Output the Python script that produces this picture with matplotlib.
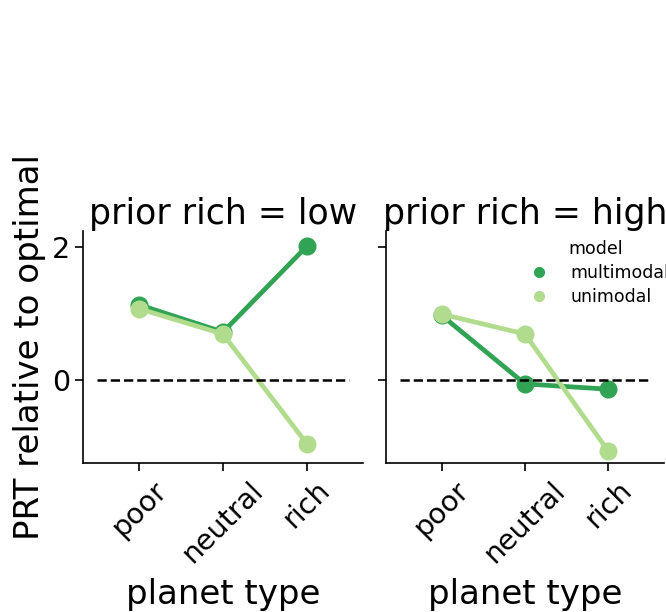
import numpy as np
import matplotlib.pyplot as plt
from matplotlib.lines import Line2D

planet_types = ["poor", "neutral", "rich"]
priors = ["low", "high"]
models = ["multimodal", "unimodal"]

# PRT relative to optimal, per prior -> model
prt_low_multimodal = [1.13, 0.72, 2.01]
prt_low_unimodal = [1.07, 0.69, -0.96]
prt_high_multimodal = [0.97, -0.06, -0.14]
prt_high_unimodal = [0.99, 0.69, -1.07]

values = {
    "low": {"multimodal": prt_low_multimodal, "unimodal": prt_low_unimodal},
    "high": {"multimodal": prt_high_multimodal, "unimodal": prt_high_unimodal},
}
colors = {"multimodal": "#31a354", "unimodal": "#b1dc8e"}

fig = plt.figure(figsize=(6.66, 6.12), dpi=100)
ax1 = fig.add_axes([83/666, 1 - 463/612, 280/666, 232/612])
ax2 = fig.add_axes([386/666, 1 - 463/612, 278/666, 232/612], sharey=ax1)

x = np.arange(len(planet_types))
for ax, prior in zip([ax1, ax2], priors):
    for m in models:
        ax.plot(x, values[prior][m], color=colors[m], lw=3.4, marker="o",
                markersize=13, markeredgewidth=0, solid_capstyle="round")
    ax.hlines(0, -0.5, 2.5, colors="k", linestyles="--", lw=1.8)
    ax.set_xlim(-0.67, 2.67)
    ax.set_xticks(x)
    ax.set_xticklabels(planet_types, rotation=45)
    ax.set_xlabel("planet type", fontsize=24.5, labelpad=7)
    ax.set_title(f"prior rich = {prior}", fontsize=25, pad=5)
    for s in ["top", "right"]:
        ax.spines[s].set_visible(False)
    for s in ["left", "bottom"]:
        ax.spines[s].set_linewidth(1.2)
    ax.tick_params(width=1.2, length=6, labelsize=20.5)

ax1.set_ylim(-1.25, 2.24)
ax1.set_yticks([0, 2])
ax1.set_ylabel("PRT relative to optimal", fontsize=24.5)
plt.setp(ax2.get_yticklabels(), visible=False)

handles = [Line2D([], [], color=colors[m], marker="o", linestyle="", markersize=7)
           for m in models]
fig.legend(handles, models, title="model", frameon=False, fontsize=12.5,
           title_fontsize=12.5, loc="upper left", bbox_to_anchor=(506/666, 1 - 224/612),
           labelspacing=0.35)

fig.savefig("out.png", dpi=100)
